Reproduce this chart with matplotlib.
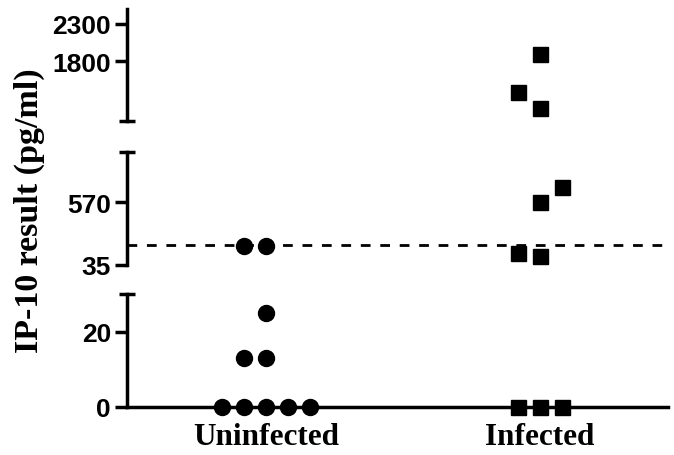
import matplotlib
matplotlib.use("Agg")
import matplotlib.pyplot as plt

# Data -------------------------------------------------------------------------

groups = ["Uninfected", "Infected"]
uninfected = [0, 0, 0, 0, 0, 13, 13, 25, 195, 195]
infected = [0, 0, 0, 111, 134, 570, 700, 1170, 1380, 1900]
# horizontal slot of each point inside its column (scatter spread)
uninfected_slot = [-2, -1, 0, 1, 2, -1, 0, 0, -1, 0]
infected_slot = [-1, 0, 1, 0, -1, 0, 1, 0, -1, 0]
cutoff = 200

# broken y axis: (low, high) of each piece, bottom first
segments = [(0, 30), (35, 1000), (1000, 2500)]
seg_ticks = [[0, 20], [35, 570], [1800, 2300]]
seg_caps = [[30], [35, 1000], [1000]]

# Layout -----------------------------------------------------------------------

W, H = 674, 456
left_px, right_px = 127, 668
seg_px = [(408, 295), (265.7, 153), (121.7, 10)]  # (bottom, top) in pixels
slot_step = 0.08

serif = "Liberation Serif"
sans = "Liberation Sans"
lw = 2.5

fig = plt.figure(figsize=(W / 100, H / 100), dpi=100)

axes = []
for i, ((lo, hi), (pb, pt)) in enumerate(zip(segments, seg_px)):
    ax = fig.add_axes([left_px / W, (H - pb) / H, (right_px - left_px) / W, (pb - pt) / H])
    ax.set_xlim(0.493, 2.467)
    ax.set_ylim(lo, hi)
    ax.patch.set_alpha(0)
    for s in ["top", "right"]:
        ax.spines[s].set_visible(False)
    ax.spines["left"].set_linewidth(lw)
    if i == 0:
        ax.spines["bottom"].set_linewidth(lw)
        ax.set_xticks([1, 2])
        ax.set_xticklabels(groups, fontfamily=serif, fontweight="bold", fontsize=22.5)
        ax.tick_params(axis="x", length=3, width=2, pad=8)
    else:
        ax.spines["bottom"].set_visible(False)
        ax.set_xticks([])
    ax.set_yticks(seg_ticks[i])
    ax.set_yticklabels([str(t) for t in seg_ticks[i]], fontfamily=sans,
                       fontweight="bold", fontsize=19)
    ax.tick_params(axis="y", length=9, width=lw, pad=2.5)
    ax.set_yticks(seg_caps[i], minor=True)
    ax.tick_params(axis="y", which="minor", direction="inout", length=11, width=lw)

    # points of this piece only
    for col, (vals, slots, mk, ms) in enumerate(
        [(uninfected, uninfected_slot, "o", 11.5), (infected, infected_slot, "s", 10.8)]
    ):
        xs = [col + 1 + s * slot_step for v, s in zip(vals, slots) if lo <= v <= hi]
        ys = [v for v in vals if lo <= v <= hi]
        ax.plot(xs, ys, linestyle="none", marker=mk, markersize=ms,
                color="black", clip_on=False, zorder=5)

    if lo <= cutoff <= hi:
        ax.axhline(cutoff, color="black", linewidth=2.0, dashes=(3.5, 3.5), zorder=3)
    axes.append(ax)

fig.text(0.044, 0.539, "IP-10 result (pg/ml)", rotation=90, ha="center", va="center",
         fontfamily=serif, fontweight="bold", fontsize=24.5)

fig.savefig("out.png", dpi=100)
